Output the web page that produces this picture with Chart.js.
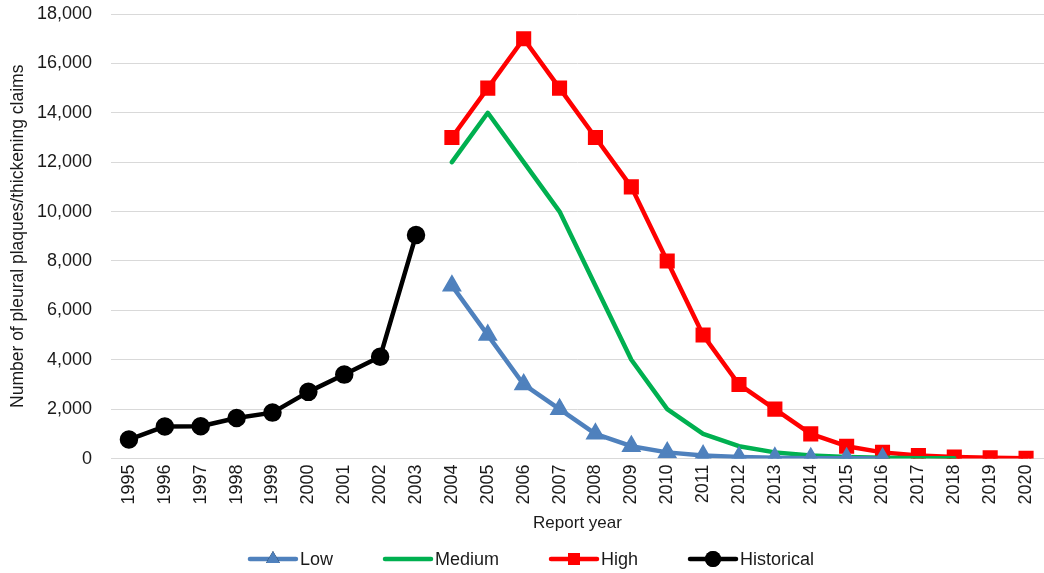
<!doctype html>
<html>
<head>
<title>Pleural plaques claims</title>
<script src="https://cdn.jsdelivr.net/npm/chart.js@4/dist/chart.umd.min.js"></script>
<style>
  html, body { margin: 0; padding: 0; background: #fff; }
  #holder { width: 1044px; height: 573px; }
</style>
</head>
<body>
<div id="holder"><canvas id="chart"></canvas></div>
<script>
var years = ['1995','1996','1997','1998','1999','2000','2001','2002','2003','2004','2005','2006','2007',
             '2008','2009','2010','2011','2012','2013','2014','2015','2016','2017','2018','2019','2020'];

var historical = [770, 1300, 1310, 1640, 1860, 2700, 3400, 4120, 9050,
                  null, null, null, null, null, null, null, null, null, null, null, null, null, null, null, null, null];
var low    = [null, null, null, null, null, null, null, null, null,
              7000, 5000, 3000, 2000, 1000, 500, 250, 120, 60, 30, 15, 8, 4, null, null, null, null];
var medium = [null, null, null, null, null, null, null, null, null,
              12000, 14000, 12000, 10000, 7000, 4000, 2000, 1000, 500, 250, 120, 60, 30, 15, 8, null, null];
var high   = [null, null, null, null, null, null, null, null, null,
              13000, 15000, 17000, 15000, 13000, 11000, 8000, 5000, 3000, 2000, 1000, 500, 250, 120, 60, 30, 15];

var FONT = '"Liberation Sans", Arial, sans-serif';
var TEXT = '#1a1a1a';

// legend drawn by hand so each entry shows the line with its marker, like the original
var lineLegend = {
    id: 'lineLegend',
    afterDraw: function(chart) {
        var ctx = chart.ctx;
        var items = chart.data.datasets;
        var lineW = 46, gap = 4, spacing = 52;
        ctx.save();
        ctx.font = '18px ' + FONT;
        var total = 0;
        items.forEach(function(ds, i) {
            total += lineW + gap + ctx.measureText(ds.label).width + (i < items.length - 1 ? spacing : 0);
        });
        var x = (chart.width - total) / 2 + 10;
        var y = 559;
        items.forEach(function(ds) {
            ctx.strokeStyle = ds.borderColor;
            ctx.lineWidth = 4.5;
            ctx.lineCap = 'round';
            ctx.beginPath();
            ctx.moveTo(x, y);
            ctx.lineTo(x + lineW, y);
            ctx.stroke();
            if (ds.pointRadius > 0) {
                Chart.helpers.drawPoint(ctx, {
                    pointStyle: ds.pointStyle,
                    radius: ds.pointRadius + 1,
                    rotation: 0,
                    borderWidth: 0
                }, x + lineW / 2, y);
                ctx.fillStyle = ds.backgroundColor;
                ctx.fill();
            }
            ctx.fillStyle = TEXT;
            ctx.textBaseline = 'middle';
            ctx.textAlign = 'left';
            ctx.fillText(ds.label, x + lineW + gap, y + 1);
            x += lineW + gap + ctx.measureText(ds.label).width + spacing;
        });
        ctx.restore();
    }
};

var config = {
    type: 'line',
    data: {
        labels: years,
        datasets: [
            { label: 'Low', data: low, borderColor: '#4f81bd', backgroundColor: '#4f81bd',
              pointStyle: 'triangle', pointRadius: 7, borderWidth: 4.5 },
            { label: 'Medium', data: medium, borderColor: '#00b050', backgroundColor: '#00b050',
              pointStyle: 'circle', pointRadius: 0, borderWidth: 4.5 },
            { label: 'High', data: high, borderColor: '#ff0000', backgroundColor: '#ff0000',
              pointStyle: 'rect', pointRadius: 7.5, borderWidth: 4.5 },
            { label: 'Historical', data: historical, borderColor: '#000000', backgroundColor: '#000000',
              pointStyle: 'circle', pointRadius: 7, borderWidth: 4.5 }
        ]
    },
    options: {
        responsive: true,
        maintainAspectRatio: false,
        animation: false,
        spanGaps: false,
        layout: { autoPadding: false, padding: { top: 14, right: 0, bottom: 39, left: 6 } },
        elements: {
            line: { tension: 0, borderJoinStyle: 'round', borderCapStyle: 'round' },
            point: { borderWidth: 0, hoverRadius: 7 }
        },
        plugins: {
            legend: { display: false },
            tooltip: { enabled: false }
        },
        scales: {
            x: {
                offset: true,
                grid: { display: false, drawTicks: false },
                border: { display: true, color: '#d9d9d9', width: 1 },
                afterFit: function(scale) { scale.paddingLeft = 0; scale.paddingRight = 0; },
                ticks: {
                    color: TEXT, font: { family: FONT, size: 18 },
                    minRotation: 90, maxRotation: 90, autoSkip: false, padding: 6
                },
                title: {
                    display: true, text: 'Report year', color: TEXT,
                    font: { family: FONT, size: 17 }, padding: { top: 3, bottom: 0 }
                }
            },
            y: {
                min: 0, max: 18000,
                grid: { color: '#d9d9d9', lineWidth: 1, drawTicks: false },
                border: { display: false },
                afterFit: function(scale) { scale.width = 105; scale.paddingTop = 0; scale.paddingBottom = 0; },
                ticks: {
                    stepSize: 2000, color: TEXT, padding: 19,
                    font: { family: FONT, size: 18 },
                    callback: function(v) { return v.toLocaleString('en-US'); }
                },
                title: {
                    display: true, text: 'Number of pleural plaques/thickening claims', color: TEXT,
                    font: { family: FONT, size: 17.5 }, padding: { top: 2, bottom: 0 }
                }
            }
        }
    },
    plugins: [lineLegend]
};

window.onload = function() {
    var ctx = document.getElementById('chart').getContext('2d');
    window.myChart = new Chart(ctx, config);
};
</script>
</body>
</html>
